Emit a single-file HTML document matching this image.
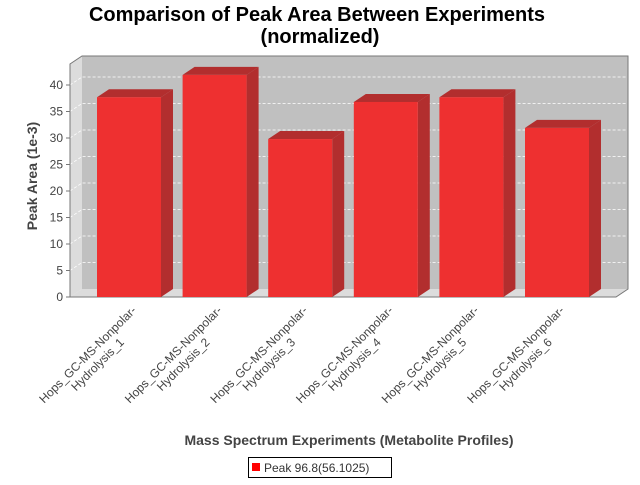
<!DOCTYPE html>
<html><head><meta charset="utf-8"><style>
body{margin:0;background:#fff;}
svg text{font-family:"Liberation Sans","DejaVu Sans",sans-serif;}
</style></head><body>
<svg id="c" width="640" height="480" xmlns="http://www.w3.org/2000/svg">
<rect width="640" height="480" fill="#fff"/>
<text x="317" y="21" text-anchor="middle" font-size="20" font-weight="bold">Comparison of Peak Area Between Experiments</text>
<text x="320" y="43" text-anchor="middle" font-size="20" font-weight="bold">(normalized)</text>
<polygon points="82,56 628,56 628,289 82,289" fill="#c0c0c0"/>
<polygon points="70,64 82,56 82,289 70,297" fill="#dcdcdc"/>
<polygon points="70,297 82,289 628,289 616,297" fill="#dcdcdc"/>
<g id="grid"></g>
<polyline points="70,297 70,64 82,56 628,56 628,289 616,297 70,297" fill="none" stroke="#777" stroke-width="1"/>
<g id="bars"></g>
<g id="yaxis"></g>
<g id="xlabels"></g>
<text transform="translate(37,176) rotate(-90)" text-anchor="middle" font-size="14" font-weight="bold" fill="#444">Peak Area (1e-3)</text>
<text x="349" y="445" text-anchor="middle" font-size="14" font-weight="bold" fill="#444">Mass Spectrum Experiments (Metabolite Profiles)</text>
<g>
<rect x="248.5" y="457.5" width="143" height="20" fill="#fff" stroke="#000"/>
<rect x="252" y="463" width="8" height="8" fill="#ff0000"/>
<text x="264" y="472" font-size="12" fill="#333">Peak 96.8(56.1025)</text>
</g>
</svg>
<script>
const categories=["Hops_GC-MS-Nonpolar-|Hydrolysis_1","Hops_GC-MS-Nonpolar-|Hydrolysis_2","Hops_GC-MS-Nonpolar-|Hydrolysis_3","Hops_GC-MS-Nonpolar-|Hydrolysis_4","Hops_GC-MS-Nonpolar-|Hydrolysis_5","Hops_GC-MS-Nonpolar-|Hydrolysis_6"];
const values=[37.7,41.9,29.8,36.8,37.7,31.9];
const ticks=[0,5,10,15,20,25,30,35,40];
const NS="http://www.w3.org/2000/svg";
const y0=297,ppu=5.3,dx=12,dy=8;
const yS=v=>y0-v*ppu;
const bx=i=>97+i*85.6;
const bw=64;
function mk(t,a,p){const e=document.createElementNS(NS,t);for(const k in a)e.setAttribute(k,a[k]);(p||document.getElementById('c')).appendChild(e);return e;}
const grid=document.getElementById('grid'),ya=document.getElementById('yaxis');
ticks.forEach(t=>{const y=yS(t);
 if(t>0){const g=mk('polyline',{points:`70,${y} 82,${y-dy} 628,${y-dy}`,fill:'none',stroke:'#fff','stroke-width':0.8,'stroke-dasharray':'3,2'},grid);
 
 }
 const tk=mk('line',{x1:66,x2:70,y1:y,y2:y,stroke:'#777'},ya);
 
 
 const tl=mk('text',{x:63,y:y+4,'text-anchor':'end','font-size':12,fill:'#444'},ya);
 tl.textContent=t;
 
 
});
const bars=document.getElementById('bars'),xl=document.getElementById('xlabels');
values.forEach((v,i)=>{const x=bx(i),y=yS(v);
 const g=mk('g',{},bars);
 
 
 mk('polygon',{points:`${x+bw},${y} ${x+bw+dx},${y-dy} ${x+bw+dx},${y0-dy} ${x+bw},${y0}`,fill:'#b22e2e'},g);
 mk('polygon',{points:`${x},${y} ${x+dx},${y-dy} ${x+bw+dx},${y-dy} ${x+bw},${y}`,fill:'#b22e2e'},g);
 mk('rect',{x:x,y:y,width:bw,height:y0-y,fill:'#ee3030'},g);
 const parts=categories[i].split('|');
 const lg=mk('g',{transform:`translate(${x+bw/2+8},311) rotate(-45)`},xl);
 
 
 const t1=mk('text',{x:0,y:0,'text-anchor':'end','font-size':12,fill:'#444'},lg);t1.textContent=parts[0];
 const w=t1.getComputedTextLength?t1.getComputedTextLength():140;
 const t2=mk('text',{x:-w/2,y:14,'text-anchor':'middle','font-size':12,fill:'#444'},lg);t2.textContent=parts[1];
});
</script>
</body></html>
